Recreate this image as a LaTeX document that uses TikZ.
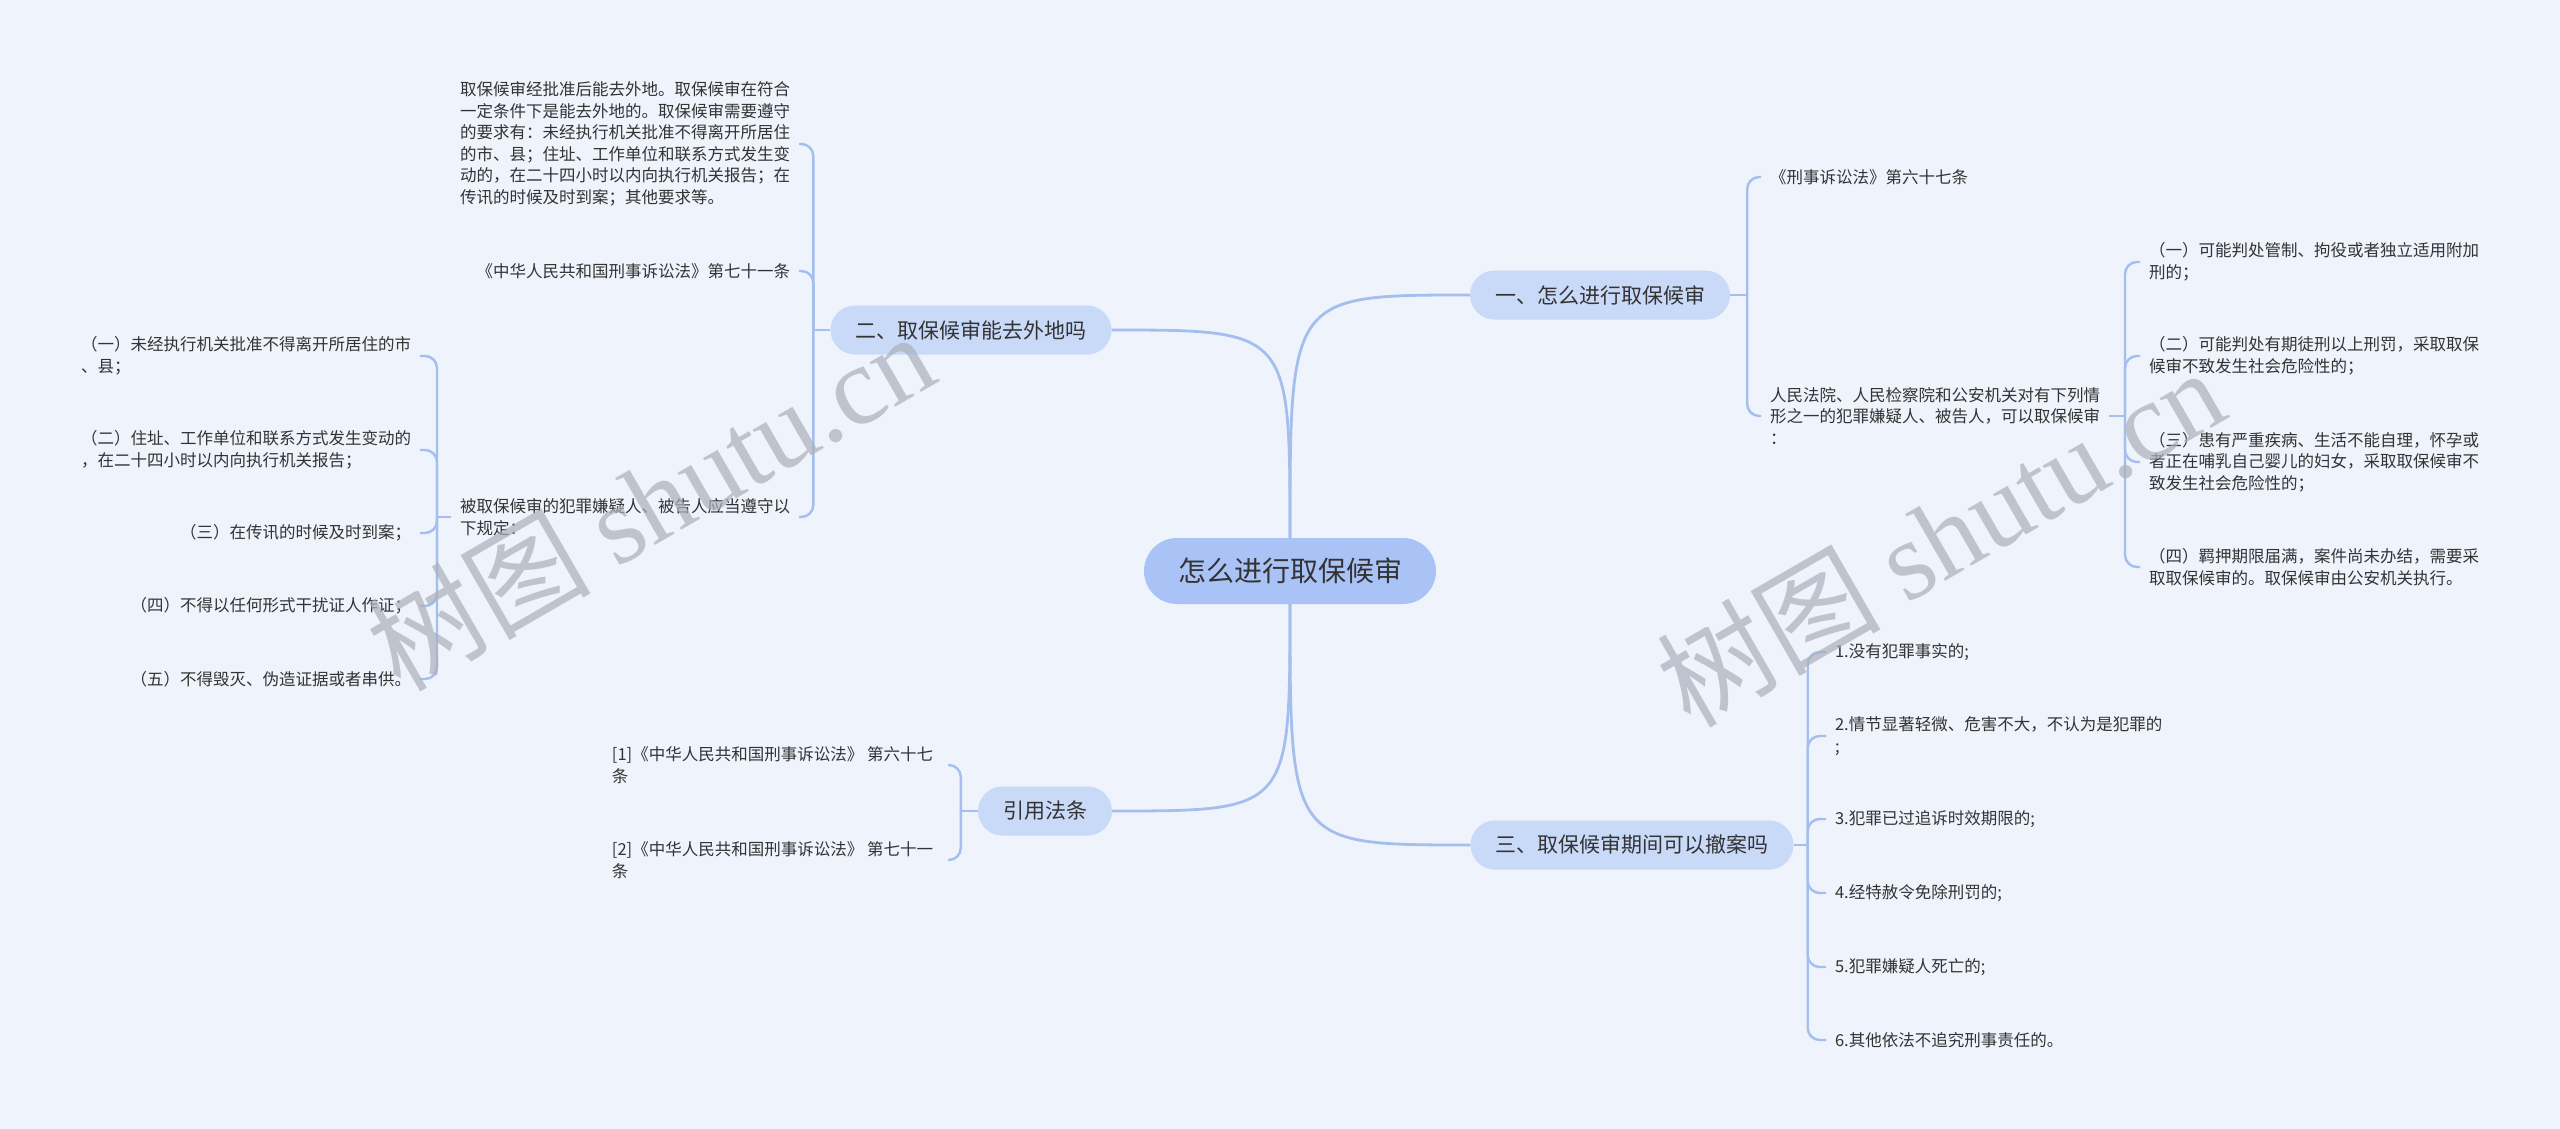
\documentclass[tikz,border=0pt]{standalone}
\usepackage{fontspec}
\setmainfont{Noto Sans CJK SC}
\newfontfamily\wmserif{Liberation Serif}
\usetikzlibrary{calc}
\definecolor{bg}{RGB}{238,243,252}
\definecolor{rootfill}{RGB}{170,195,247}
\definecolor{mainfill}{RGB}{201,217,248}
\definecolor{linec}{RGB}{164,190,238}
\definecolor{txt}{RGB}{51,51,51}
\definecolor{wm}{RGB}{172,176,186}
\begin{document}
\begin{tikzpicture}[x=1pt,y=-1pt,
  root/.style={fill=rootfill, rounded corners=33pt, minimum height=66pt, inner xsep=34pt, inner ysep=0pt, font=\fontsize{28}{32}\selectfont, text=txt},
  mainnode/.style={fill=mainfill, rounded corners=24.5pt, minimum height=49pt, inner xsep=25pt, inner ysep=0pt, font=\fontsize{21}{25}\selectfont, text=txt},
  leaf/.style={inner xsep=0pt, inner ysep=2pt, outer xsep=9pt, align=left, font=\fontsize{16.5}{21.5}\selectfont, text=txt},
  trunk/.style={draw=linec, line width=2.8pt},
  twig/.style={draw=linec, line width=2.4pt, rounded corners=12pt},
  watermark/.style={rotate=30, text=wm, opacity=0.7, inner sep=0pt, font=\fontsize{112}{112}\selectfont}
]
\fill[bg] (0,0) rectangle (2560,1129);
\useasboundingbox (0,0) rectangle (2560,1129);

% main nodes
\node[root] (C) at (1290,571) {怎么进行取保候审};
\node[mainnode] (B1) at (1600,295) {一、怎么进行取保候审};
\node[mainnode] (B2) at (971,330) {二、取保候审能去外地吗};
\node[mainnode] (B3) at (1632,845) {三、取保候审期间可以撤案吗};
\node[mainnode] (B4) at (1045,811) {引用法条};

% branch 1 leaves
\node[leaf, anchor=west] (R1) at (1761,177) {《刑事诉讼法》第六十七条};
\node[leaf, anchor=west] (R2) at (1761,416) {人民法院、人民检察院和公安机关对有下列情\\形之一的犯罪嫌疑人、被告人，可以取保候审\\：};
\node[leaf, anchor=west] (R21) at (2140,262) {（一）可能判处管制、拘役或者独立适用附加\\刑的；};
\node[leaf, anchor=west] (R22) at (2140,356) {（二）可能判处有期徒刑以上刑罚，采取取保\\候审不致发生社会危险性的；};
\node[leaf, anchor=west] (R23) at (2140,462) {（三）患有严重疾病、生活不能自理，怀孕或\\者正在哺乳自己婴儿的妇女，采取取保候审不\\致发生社会危险性的；};
\node[leaf, anchor=west] (R24) at (2140,567) {（四）羁押期限届满，案件尚未办结，需要采\\取取保候审的。取保候审由公安机关执行。};

% branch 3 leaves
\node[leaf, anchor=west] (T1) at (1826,652) {1.没有犯罪事实的;};
\node[leaf, anchor=west] (T2) at (1826,736) {2.情节显著轻微、危害不大，不认为是犯罪的\\;};
\node[leaf, anchor=west] (T3) at (1826,819) {3.犯罪已过追诉时效期限的;};
\node[leaf, anchor=west] (T4) at (1826,893) {4.经特赦令免除刑罚的;};
\node[leaf, anchor=west] (T5) at (1826,967) {5.犯罪嫌疑人死亡的;};
\node[leaf, anchor=west] (T6) at (1826,1040) {6.其他依法不追究刑事责任的。};

% branch 2 leaves
\node[leaf, anchor=east] (L1) at (799,144) {取保候审经批准后能去外地。取保候审在符合\\一定条件下是能去外地的。取保候审需要遵守\\的要求有：未经执行机关批准不得离开所居住\\的市、县；住址、工作单位和联系方式发生变\\动的，在二十四小时以内向执行机关报告；在\\传讯的时候及时到案；其他要求等。};
\node[leaf, anchor=east] (L2) at (799,271) {《中华人民共和国刑事诉讼法》第七十一条};
\node[leaf, anchor=east] (L3) at (799,517) {被取保候审的犯罪嫌疑人、被告人应当遵守以\\下规定：};
\node[leaf, anchor=east] (L31) at (420,356) {（一）未经执行机关批准不得离开所居住的市\\、县；};
\node[leaf, anchor=east] (L32) at (420,450) {（二）住址、工作单位和联系方式发生变动的\\，在二十四小时以内向执行机关报告；};
\node[leaf, anchor=east] (L33) at (420,533) {（三）在传讯的时候及时到案；};
\node[leaf, anchor=east] (L34) at (420,606) {（四）不得以任何形式干扰证人作证；};
\node[leaf, anchor=east] (L35) at (420,679) {（五）不得毁灭、伪造证据或者串供。};

% branch 4 leaves
\node[leaf, anchor=east, outer xsep=15pt] (F1) at (948,765) {[1]《中华人民共和国刑事诉讼法》 第六十七\\条};
\node[leaf, anchor=east, outer xsep=15pt] (F2) at (948,860) {[2]《中华人民共和国刑事诉讼法》 第七十一\\条};

% trunk connectors
\draw[trunk] (C.north) .. controls (C.north |- B1.west) .. (B1.west);
\draw[trunk] (C.north) .. controls (C.north |- B2.east) .. (B2.east);
\draw[trunk] (C.south) .. controls (C.south |- B3.west) .. (B3.west);
\draw[trunk] (C.south) .. controls (C.south |- B4.east) .. (B4.east);

% junctions
\coordinate (J1) at ($(B1.east)+(17,0)$);
\coordinate (J2) at ($(R2.east)+(16,0)$);
\coordinate (J3) at ($(B3.east)+(14,0)$);
\coordinate (J4) at ($(B2.west)+(-17,0)$);
\coordinate (J5) at ($(L3.west)+(-14,0)$);
\coordinate (J6) at ($(B4.west)+(-17,0)$);

\draw[twig] (B1.east) -- (J1);
\draw[twig] (J1) |- (R1.west);
\draw[twig] (J1) |- (R2.west);

\draw[twig] (R2.east) -- (J2);
\foreach \n in {R21,R22,R23,R24} \draw[twig] (J2) |- (\n.west);

\draw[twig] (B3.east) -- (J3);
\foreach \n in {T1,T2,T3,T4,T5,T6} \draw[twig] (J3) |- (\n.west);

\draw[twig] (B2.west) -- (J4);
\foreach \n in {L1,L2,L3} \draw[twig] (J4) |- (\n.east);

\draw[twig] (L3.west) -- (J5);
\foreach \n in {L31,L32,L33,L34,L35} \draw[twig] (J5) |- (\n.east);

\draw[twig] (B4.west) -- (J6);
\foreach \n in {F1,F2} \draw[twig] (J6) |- (\n.east);

% watermarks
\node[watermark] (W1) at (650,500) {树图 {\wmserif shutu.cn}};
\node[watermark] (W2) at (1940,536) {树图 {\wmserif shutu.cn}};
\end{tikzpicture}
\end{document}
